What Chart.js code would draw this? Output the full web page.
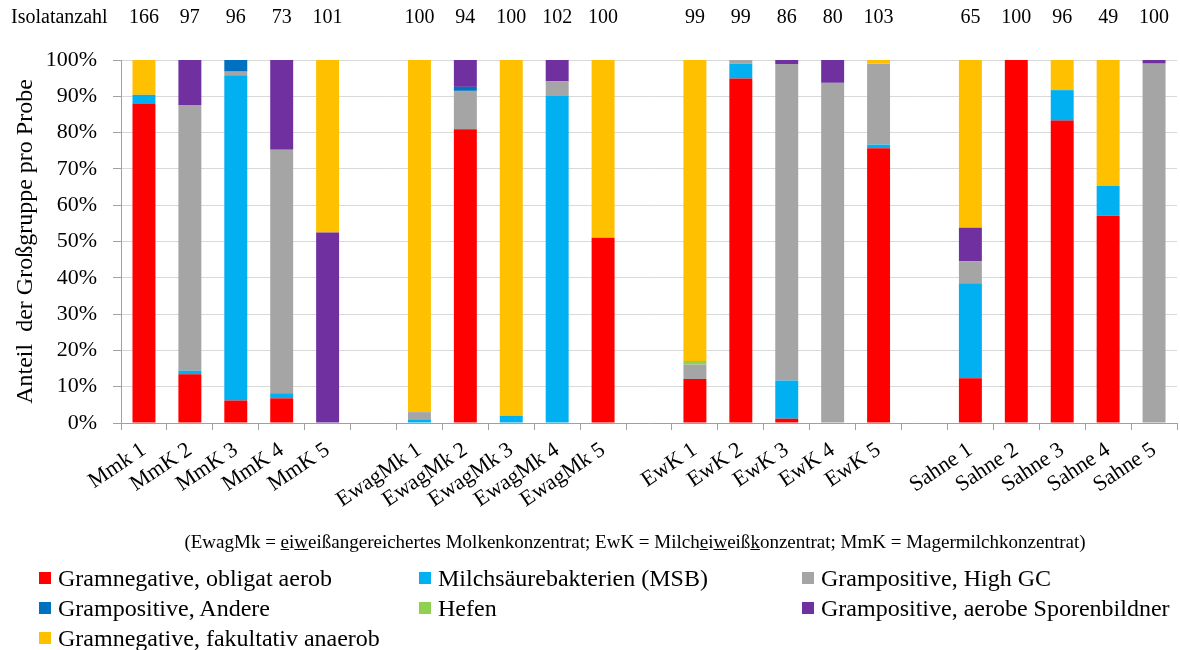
<!DOCTYPE html>
<html lang="de">
<head>
  <meta charset="UTF-8">
  <title>Anteil der Großgruppe pro Probe</title>
  <script src="https://cdn.jsdelivr.net/npm/chart.js@4.4.0/dist/chart.umd.min.js"></script>
  <style>
    body { margin: 0; background: #fff; font-family: "Liberation Serif", "Times New Roman", serif; }
    #wrap { position: relative; width: 1180px; height: 650px; }
    #chart { position: absolute; left: 0; top: 0; }
    #note { position: absolute; left: 0; width: 1270px; top: 530px; text-align: center; font-size: 19px; line-height: 24px; color: #000; }
    .leg { position: absolute; font-size: 24px; line-height: 28px; color: #000; white-space: nowrap; }
    .leg i { position: absolute; width: 12px; height: 12px; top: 8px; }
  </style>
</head>
<body>
  <div id="wrap">
    <canvas id="chart" width="1180" height="650"></canvas>
    <div id="note">(EwagMk = <u>e</u>i<u>w</u>eißangereichertes Molkenkonzentrat; EwK = Milch<u>e</u>i<u>w</u>eiß<u>k</u>onzentrat; MmK = Magermilchkonzentrat)</div>
    <div id="legend"></div>
  </div>

  <script>
    // Proben (leere Einträge = Lücke zwischen den Gruppen)
    const samples = ['Mmk 1', 'MmK 2', 'MmK 3', 'MmK 4', 'MmK 5', '',
      'EwagMk 1', 'EwagMk 2', 'EwagMk 3', 'EwagMk 4', 'EwagMk 5', '',
      'EwK 1', 'EwK 2', 'EwK 3', 'EwK 4', 'EwK 5', '',
      'Sahne 1', 'Sahne 2', 'Sahne 3', 'Sahne 4', 'Sahne 5'];

    // Isolatanzahl je Probe
    const isolates = [166, 97, 96, 73, 101, null,
      100, 94, 100, 102, 100, null,
      99, 99, 86, 80, 103, null,
      65, 100, 96, 49, 100];

    // Anteile in % (von unten nach oben gestapelt)
    const gramNegAerob = [88.0, 13.4, 6.2, 6.8, 0, null, 0, 80.9, 0, 0, 51, null, 12.1, 94.9, 1.2, 0, 75.7, null, 12.3, 100, 83.3, 57.1, 0];
    const msb          = [2.4, 1.0, 89.6, 1.4, 0, null, 1, 0, 2, 90.2, 0, null, 0, 4.1, 10.5, 0, 1.0, null, 26.2, 0, 8.4, 8.2, 0];
    const gramPosHighGC = [0, 73.2, 1.0, 67.1, 0, null, 2, 10.6, 0, 3.9, 0, null, 4.0, 1.0, 87.2, 93.7, 22.3, null, 6.1, 0, 0, 0, 99];
    const gramPosAndere = [0, 0, 3.2, 0, 0, null, 0, 1.1, 0, 0, 0, null, 0, 0, 0, 0, 0, null, 0, 0, 0, 0, 0];
    const hefen        = [0, 0, 0, 0, 0, null, 0, 0, 0, 0, 0, null, 1.0, 0, 0, 0, 0, null, 0, 0, 0, 0, 0];
    const sporen       = [0, 12.4, 0, 24.7, 52.5, null, 0, 7.4, 0, 5.9, 0, null, 0, 0, 1.1, 6.3, 0, null, 9.2, 0, 0, 0, 1];
    const gramNegFak   = [9.6, 0, 0, 0, 47.5, null, 97, 0, 98, 0, 49, null, 82.9, 0, 0, 0, 1.0, null, 46.2, 0, 8.3, 34.7, 0];

    const yTicks = [0, 10, 20, 30, 40, 50, 60, 70, 80, 90, 100];

    const seriesNames = ['Gramnegative, obligat aerob', 'Milchsäurebakterien (MSB)', 'Grampositive, High GC',
      'Grampositive, Andere', 'Hefen', 'Grampositive, aerobe Sporenbildner', 'Gramnegative, fakultativ anaerob'];
    const seriesColors = ['#FF0000', '#00B0F0', '#A5A5A5', '#0070C0', '#92D050', '#7030A0', '#FFC000'];
    const seriesData = [gramNegAerob, msb, gramPosHighGC, gramPosAndere, hefen, sporen, gramNegFak];

    const FONT = '"Liberation Serif", "Times New Roman", serif';

    // Isolatanzahl über den Balken
    const countsPlugin = {
      id: 'counts',
      afterDraw(chart) {
        const ctx = chart.ctx;
        const x = chart.scales.x;
        ctx.save();
        ctx.font = '20px ' + FONT;
        ctx.fillStyle = '#000';
        ctx.textBaseline = 'middle';
        ctx.textAlign = 'left';
        ctx.fillText('Isolatanzahl', 11, 18);
        ctx.textAlign = 'center';
        isolates.forEach((n, i) => {
          if (n !== null) ctx.fillText(String(n), x.getPixelForValue(i), 18);
        });
        ctx.restore();
      }
    };

    const chart = new Chart(document.getElementById('chart'), {
      type: 'bar',
      data: {
        labels: samples,
        datasets: seriesNames.map((name, i) => ({
          label: name,
          data: seriesData[i],
          backgroundColor: seriesColors[i],
          borderWidth: 0,
          barPercentage: 0.5,
          categoryPercentage: 1.0
        }))
      },
      options: {
        responsive: false,
        animation: false,
        layout: { padding: { top: 60, right: 3, left: 0, bottom: 0 } },
        plugins: {
          legend: { display: false },
          tooltip: { enabled: false }
        },
        scales: {
          x: {
            stacked: true,
            afterFit: (s) => { s.height = 227; },
            grid: { offset: true, drawOnChartArea: false, tickLength: 7, tickColor: '#A0A0A0' },
            border: { color: '#A0A0A0' },
            ticks: {
              autoSkip: false,
              minRotation: 34,
              maxRotation: 34,
              padding: 7,
              color: '#000',
              font: { family: FONT, size: 22 }
            }
          },
          y: {
            stacked: true,
            min: 0,
            max: 100,
            afterFit: (s) => { s.width = 121; },
            afterBuildTicks: (s) => { s.ticks = yTicks.map(v => ({ value: v })); },
            grid: { color: '#D9D9D9', tickLength: 8, tickColor: '#A0A0A0' },
            border: { color: '#A0A0A0' },
            ticks: {
              padding: 16,
              color: '#000',
              font: { family: FONT, size: 22 },
              callback: (v) => v + '%'
            },
            title: {
              display: true,
              text: 'Anteil  der Großgruppe pro Probe',
              color: '#000',
              font: { family: FONT, size: 24 },
              padding: { top: 11, bottom: 0 }
            }
          }
        }
      },
      plugins: [countsPlugin]
    });

    // Legende in drei Spalten
    const colX = [39, 419, 802];
    const rowY = [564, 594, 624];
    const legend = document.getElementById('legend');
    seriesNames.forEach((name, i) => {
      const d = document.createElement('div');
      d.className = 'leg';
      d.style.left = colX[i % 3] + 'px';
      d.style.top = rowY[Math.floor(i / 3)] + 'px';
      d.style.paddingLeft = '19px';
      d.innerHTML = '<i style="left:0;background:' + seriesColors[i] + '"></i>' + name;
      legend.appendChild(d);
    });
  </script>
</body>
</html>
